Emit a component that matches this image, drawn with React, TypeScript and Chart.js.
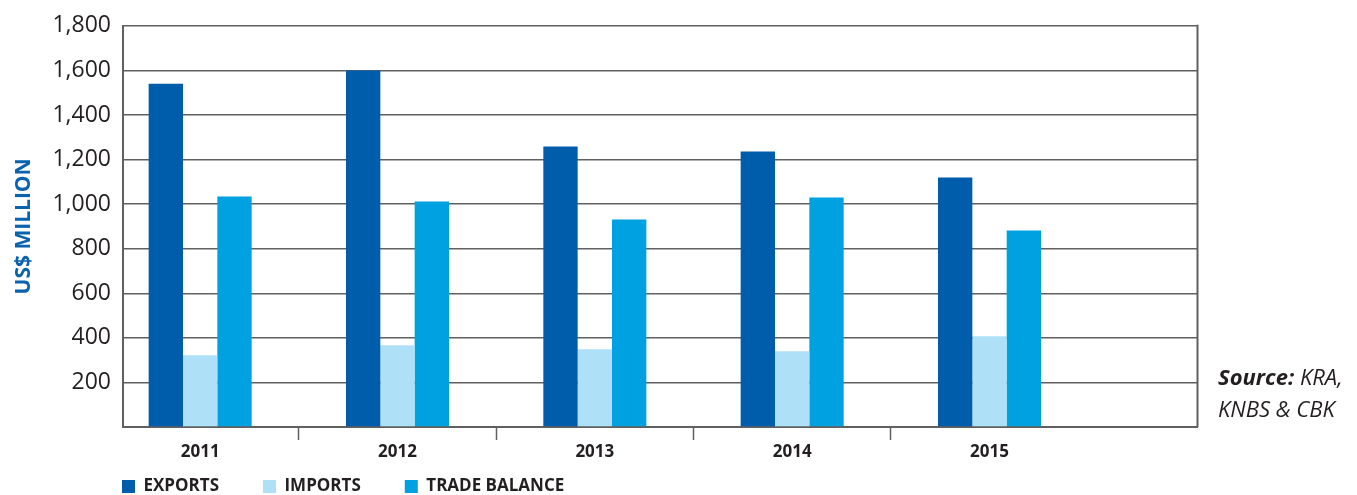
import { useEffect, useRef } from 'react';
import { Chart, registerables } from 'chart.js';

Chart.register(...registerables);

// ---- data ----
const years = ['2011', '2012', '2013', '2014', '2015'];
const seriesNames = ['EXPORTS', 'IMPORTS', 'TRADE BALANCE'];
const exportsValues = [1540, 1600, 1258, 1236, 1119];
const importsValues = [322, 367, 349, 340, 407];
const tradeBalanceValues = [1034, 1012, 931, 1030, 882];
const yAxisTitle = 'US$ MILLION';
const sourceBold = 'Source:';
const sourceRest1 = ' KRA,';
const sourceRest2 = 'KNBS & CBK';

const FONT = "'Open Sans', sans-serif";
const TEXT = '#231f20';
const AXIS = '#606060';
const COLORS = ['#005dab', '#aee0f7', '#00a1e1'];

const LEGEND_ROW_TOP = 478;
const LEGEND_LEFT = 122;

const frame = {
  id: 'frame',
  afterDatasetsDraw(chart: any) {
    const { ctx, chartArea } = chart;
    ctx.save();
    ctx.strokeStyle = AXIS;
    ctx.lineWidth = 2;
    ctx.beginPath();
    ctx.moveTo(chartArea.right, chartArea.top - 1);
    ctx.lineTo(chartArea.right, chartArea.bottom);
    ctx.stroke();
    ctx.restore();
  },
};

const legendPlacer = {
  id: 'legendPlacer',
  afterLayout(chart: any) {
    const lg = chart.legend;
    if (!lg) return;
    const pad = lg.options.labels.padding;
    const dx = LEGEND_LEFT - (lg.left + pad);
    lg.left += dx;
    lg.right += dx;
    lg.width = lg.right - lg.left;
    lg.top = LEGEND_ROW_TOP - pad;
    lg.bottom = lg.top + pad + 40;
    lg.height = lg.bottom - lg.top;
  },
};

export default function App() {
  const ref = useRef<HTMLCanvasElement>(null);

  useEffect(() => {
    const canvas = ref.current;
    if (!canvas) return;
    const toPoints = (vals: number[]) => vals.map((y, i) => ({ x: i, y }));
    const chart = new Chart(canvas, {
      type: 'bar',
      data: {
        datasets: [
          { label: seriesNames[0], data: toPoints(exportsValues), backgroundColor: COLORS[0], borderWidth: 0 },
          { label: seriesNames[1], data: toPoints(importsValues), backgroundColor: COLORS[1], borderWidth: 0 },
          { label: seriesNames[2], data: toPoints(tradeBalanceValues), backgroundColor: COLORS[2], borderWidth: 0 },
        ],
      } as any,
      options: {
        animation: false,
        responsive: false,
        maintainAspectRatio: false,
        datasets: { bar: { categoryPercentage: 0.522, barPercentage: 1 } },
        layout: { padding: { top: 25, right: 159.5, bottom: 0, left: 0 } },
        plugins: {
          tooltip: { enabled: false },
          legend: {
            display: true,
            position: 'bottom',
            align: 'start',
            fullSize: false,
            maxHeight: 28,
            labels: {
              boxWidth: 13,
              boxHeight: 13,
              padding: 44,
              color: TEXT,
              font: { family: FONT, size: 17, weight: 'bold' },
            },
          },
        },
        scales: {
          x: {
            type: 'linear',
            min: -0.391,
            max: 5.054,
            offset: false,
            afterBuildTicks: (scale: any) => {
              scale.ticks = years.map((_, i) => ({ value: i }));
            },
            afterFit: (scale: any) => {
              scale.height = 40;
            },
            grid: {
              display: true,
              drawOnChartArea: false,
              offset: true,
              drawTicks: true,
              tickLength: 13,
              tickWidth: 1.5,
              tickColor: (ctx: any) => (ctx.type === 'tick' ? AXIS : 'rgba(0,0,0,0)'),
            },
            border: { display: true, color: AXIS, width: 2 },
            ticks: {
              autoSkip: false,
              maxRotation: 0,
              padding: 2,
              color: TEXT,
              font: { family: FONT, size: 17, weight: 'bold' },
              callback: (v: any) => years[v as number] ?? '',
            },
          },
          y: {
            min: 0,
            max: 1800,
            afterFit: (scale: any) => {
              scale.width = 123;
            },
            grid: { color: AXIS, lineWidth: 1.5, drawTicks: false },
            border: { display: true, color: AXIS, width: 2 },
            title: {
              display: true,
              text: yAxisTitle,
              color: '#0b62ae',
              font: { family: FONT, size: 21, weight: 'bold' },
              padding: { top: 11, bottom: 0 },
            },
            ticks: {
              stepSize: 200,
              padding: 12,
              color: TEXT,
              font: { family: FONT, size: 23 },
              callback: (v: any) => (v === 0 ? '' : Number(v).toLocaleString('en-US')),
            },
          },
        },
      } as any,
      plugins: [frame, legendPlacer],
    });
    return () => chart.destroy();
  }, []);

  return (
    <div style={{ position: 'absolute', left: 0, top: 0, width: 1357, height: 495, background: '#ffffff' }}>
      <canvas ref={ref} width={1357} height={495} style={{ display: 'block', width: 1357, height: 495 }} />
      <div
        style={{
          position: 'absolute',
          left: 1218,
          top: 360,
          fontFamily: FONT,
          fontStyle: 'italic',
          fontSize: 22,
          lineHeight: '32px',
          color: TEXT,
          whiteSpace: 'nowrap',
        }}
      >
        <div>
          <span style={{ fontWeight: 'bold' }}>{sourceBold}</span>
          {sourceRest1}
        </div>
        <div>{sourceRest2}</div>
      </div>
    </div>
  );
}
